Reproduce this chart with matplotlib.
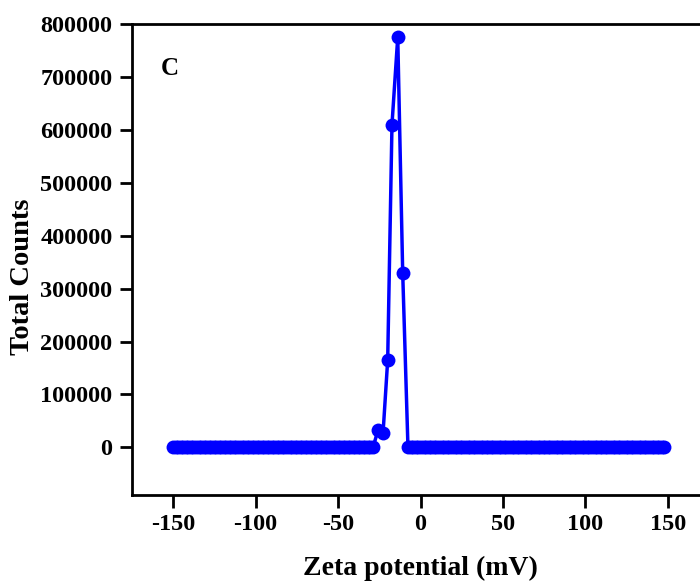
import numpy as np
import matplotlib
matplotlib.use("Agg")
import matplotlib.pyplot as plt

# zeta potential (mV) and total counts
left_mv = np.linspace(-150, -28.8, 80)
peak_mv = [-25.8, -22.7, -19.9, -17.3, -13.8, -10.8]
right_mv = np.linspace(-7.6, 148, 100)

left_counts = [0] * len(left_mv)
peak_counts = [32000, 28000, 165000, 610000, 775000, 330000]
right_counts = [0] * len(right_mv)

zeta_mv = np.concatenate([left_mv, peak_mv, right_mv])
counts = left_counts + peak_counts + right_counts

x_ticks = [-150, -100, -50, 0, 50, 100, 150]
y_ticks = [0, 100000, 200000, 300000, 400000, 500000, 600000, 700000, 800000]

plt.rcParams['font.family'] = ['Liberation Serif', 'DejaVu Serif']
plt.rcParams['font.weight'] = 'bold'

fig = plt.figure(figsize=(7, 5.82), dpi=100)
ax = fig.add_axes([132 / 700, 1 - 495 / 582, 577 / 700, 471 / 582])

ax.plot(zeta_mv, counts, color='#0000ff', lw=2.5, marker='o', ms=10,
        markeredgewidth=0, solid_capstyle='round')

ax.set_xlim(-175, 175)
ax.set_ylim(-90000, 800000)
ax.set_xticks(x_ticks)
ax.set_yticks(y_ticks)
ax.set_xticklabels([str(t) for t in x_ticks])
ax.set_yticklabels([str(t) for t in y_ticks])

for side in ['left', 'bottom', 'top', 'right']:
    ax.spines[side].set_linewidth(2)
ax.tick_params(axis='both', direction='out', length=9, width=2,
               labelsize=17.5, pad=5)
ax.tick_params(top=False, right=False)

ax.set_xlabel('Zeta potential (mV)', fontsize=20, fontweight='bold', labelpad=15)
ax.set_ylabel('Total Counts', fontsize=20.5, fontweight='bold')
ax.yaxis.set_label_coords(-0.168, 0.463)

ax.text(0.05, 0.905, 'C', transform=ax.transAxes, fontsize=18,
        fontweight='bold', va='center')

fig.savefig('out.png', dpi=100)
